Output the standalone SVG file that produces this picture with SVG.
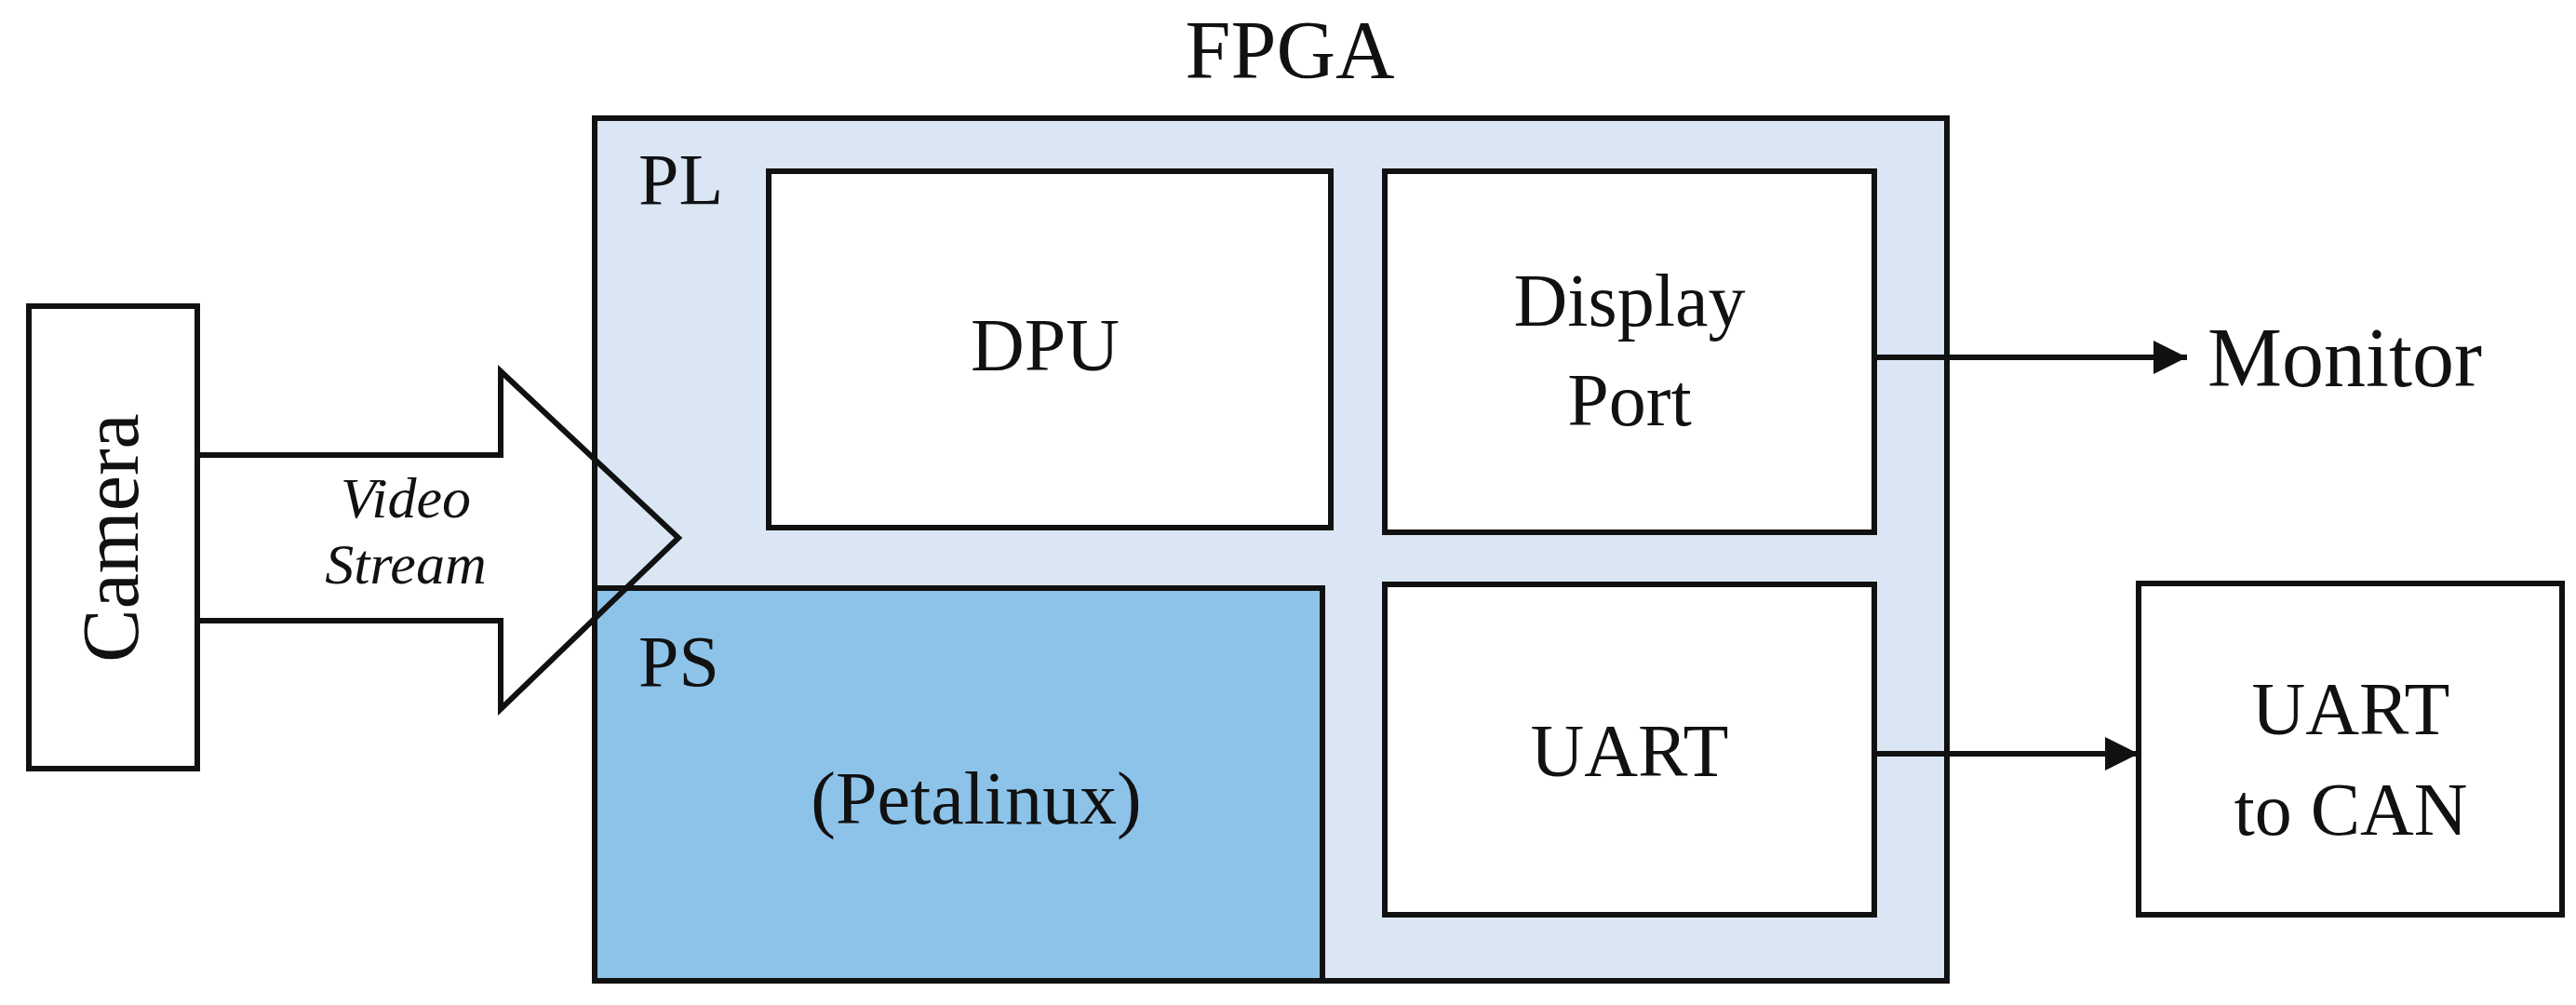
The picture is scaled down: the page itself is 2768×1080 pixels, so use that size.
<svg xmlns="http://www.w3.org/2000/svg" width="2768" height="1080" viewBox="0 0 2768 1080">
<style>
text{font-family:"Liberation Serif","DejaVu Serif",serif;fill:#111;text-anchor:middle}
.b{stroke:#111;stroke-width:6}
.w{fill:#fff}
.c{stroke:#111;stroke-width:6;fill:none}
</style>
<defs><marker id="ah" viewBox="0 0 10 10" refX="10" refY="5" markerWidth="6" markerHeight="6" orient="auto" markerUnits="strokeWidth"><path d="M0,0L10,5L0,10z" fill="#111"/></marker></defs>
<rect width="2768" height="1080" fill="#fff"/>
<path d="M212,489H538V399L729,578L538,762V667H212z" fill="#fff"/>
<g id="fpga">
<rect x="639" y="127" width="1453" height="927" fill="#DAE6F4" class="b"/>
<text x="1386" y="83" font-size="88">FPGA</text>
<text x="686" y="219" font-size="78" style="text-anchor:start">PL</text>
</g>
<g id="ps"><rect x="639" y="632" width="782" height="422" fill="#8DC3E9" class="b"/>
<text x="686" y="737" font-size="78" style="text-anchor:start">PS</text>
<text x="1049" y="885" font-size="80">(Petalinux)</text></g>
<g id="dpu"><rect x="826" y="184" width="604" height="383" class="w b"/><text x="1123" y="398" font-size="80">DPU</text></g>
<g id="dp"><rect x="1488" y="184" width="526" height="388" class="w b"/><text x="1751" y="350" font-size="80">Display</text><text x="1751" y="457" font-size="80">Port</text></g>
<g id="uart"><rect x="1488" y="628" width="526" height="355" class="w b"/><text x="1751" y="834" font-size="80">UART</text></g>
<g id="can"><rect x="2298" y="627" width="455" height="356" class="w b"/><text x="2526" y="789" font-size="80">UART</text><text x="2526" y="897" font-size="80">to CAN</text></g>
<g id="camera"><rect x="31" y="329" width="181" height="497" class="w b"/><text transform="translate(148,578) rotate(-90)" font-size="86">Camera</text></g>
<g id="monitor"><text x="2372" y="415" font-size="90" style="text-anchor:start">Monitor</text></g>
<g id="connectors">
<path d="M212,489H538V399L729,578L538,762V667H212" class="c" stroke-linejoin="miter"/>
<text x="436" y="556" font-size="62" font-style="italic">Video</text>
<text x="436" y="627" font-size="62" font-style="italic">Stream</text>
<line x1="2014" y1="384" x2="2350" y2="384" class="c" marker-end="url(#ah)"/>
<line x1="2014" y1="810" x2="2298" y2="810" class="c" marker-end="url(#ah)"/>
</g>
</svg>
